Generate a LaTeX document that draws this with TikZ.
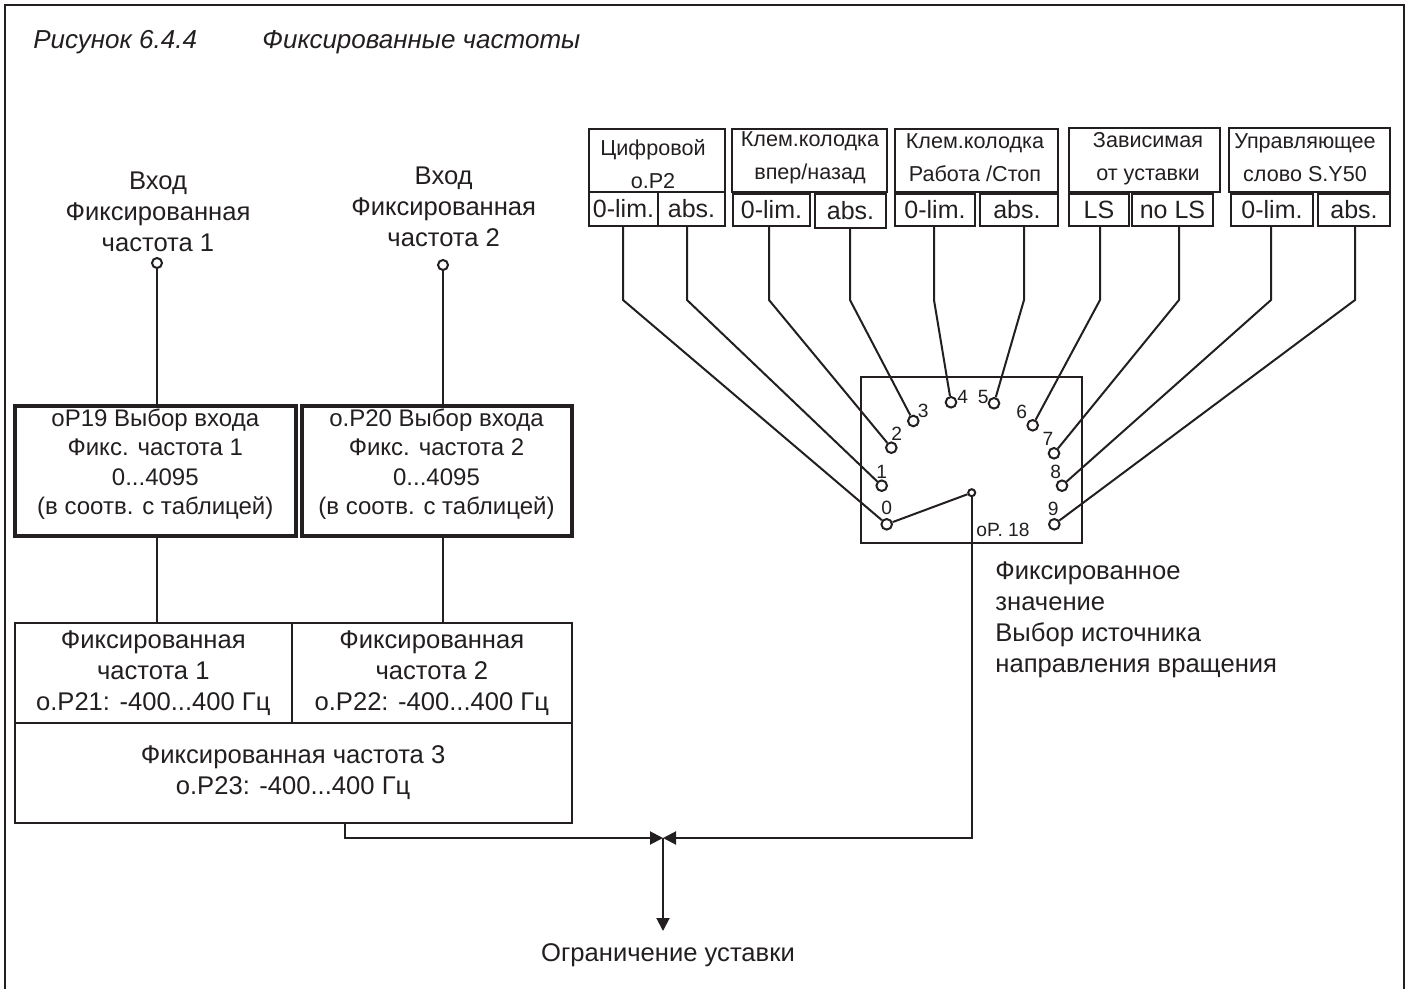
\documentclass[tikz,border=0pt]{standalone}
\usepackage{fontspec}
\setmainfont{Liberation Sans}
\usetikzlibrary{arrows.meta}
\definecolor{ink}{RGB}{35,31,32}
\newcommand\ftLab{\fontsize{12.8}{15.5}\selectfont}
\newcommand\ftBox{\fontsize{12}{14.75}\selectfont}
\newcommand\ftTop{\fontsize{10.8}{16.5}\selectfont}
\newcommand\ftCell{\fontsize{12.5}{14}\selectfont}
\newcommand\ftNum{\fontsize{9.6}{10}\selectfont}
\newcommand\ftTitle{\fontsize{13}{15}\selectfont\itshape}
\begin{document}
\begin{tikzpicture}[x=0.5pt,y=-0.5pt,color=ink,
  bline/.style={line width=1pt},
  outerframe/.style={line width=1.4pt},
  cellbox/.style={draw,line width=1pt,inner sep=0pt,align=center,font=\ftCell},
  topbox/.style={draw,line width=1pt,inner sep=0pt},
  toptxt/.style={inner sep=0pt,align=center,font=\ftTop},
  selbox/.style={draw,line width=2pt,inner sep=0pt},
  seltxt/.style={inner sep=0pt,align=center,font=\ftBox},
  fbox/.style={draw,line width=1pt,inner sep=0pt,align=center,font=\ftLab},
  swcontact/.style={circle,draw,line width=1pt,fill=white,inner sep=0pt,minimum size=5.3pt},
  inpin/.style={circle,draw,line width=1pt,fill=white,inner sep=0pt,minimum size=5pt},
  numlbl/.style={inner sep=0pt,font=\ftNum},
  labtxt/.style={inner sep=0pt,align=center,font=\ftLab},
  arrowhd/.style={-{Triangle[length=6.5pt,width=6.5pt]}},
]
\useasboundingbox (0,0) rectangle (1409,989);
% outer frame
\draw[outerframe] (5,1000) -- (5,5) -- (1404,5) -- (1404,1000);

% title
\node[inner sep=0pt,anchor=west,font=\ftTitle] (tt1) at (33,42) {Рисунок 6.4.4};
\node[inner sep=0pt,anchor=west,font=\ftTitle] (tt2) at (262,42) {Фиксированные частоты};

% ---------- left part ----------
\node[labtxt] (lin1) at (158,212) {Вход\\Фиксированная\\частота 1};
\node[labtxt] (lin2) at (443.7,207) {Вход\\Фиксированная\\частота 2};
\node[inpin] (in1) at (157,263) {};
\node[inpin] (in2) at (443,265) {};

\node[selbox,minimum width=140.7pt,minimum height=65pt] (sel1) at (155.3,471) {};
\node[seltxt] (sel1t) at (155.3,464) {oP19 Выбор входа\\Фикс. частота 1\\0...4095\\(в соотв. с таблицей)};
\node[selbox,minimum width=135pt,minimum height=65pt] (sel2) at (436.5,471) {};
\node[seltxt] (sel2t) at (436.5,464) {o.P20 Выбор входа\\Фикс. частота 2\\0...4095\\(в соотв. с таблицей)};

\node[fbox,minimum width=138.7pt,minimum height=50pt] (c1) at (153.3,672.7) {Фиксированная\\частота 1\\o.P21: -400...400 Гц};
\node[fbox,minimum width=139.8pt,minimum height=50pt] (c2) at (431.8,672.7) {Фиксированная\\частота 2\\o.P22: -400...400 Гц};
\node[fbox,minimum width=278.5pt,minimum height=50pt] (c3) at (293.1,772.7) {Фиксированная частота 3\\o.P23: -400...400 Гц};

\draw[bline] (in1) -- (in1 |- sel1.north);
\draw[bline] (in1 |- sel1.south) -- (in1 |- c1.north);
\draw[bline] (in2) -- (in2 |- sel2.north);
\draw[bline] (in2 |- sel2.south) -- (in2 |- c2.north);

% ---------- top boxes ----------
\node[topbox,minimum width=68pt,minimum height=31.5pt] (u1) at (657,160.5) {};
\node[toptxt] (u1t) at (653,164.5) {Цифровой\\o.P2};
\node[topbox,minimum width=77.5pt,minimum height=31.5pt] (u2) at (809.5,160.5) {};
\node[toptxt] (u2t) at (810,158) {Клем.колодка\\впер/назад};
\node[topbox,minimum width=81.5pt,minimum height=31.5pt] (u3) at (976.5,160.5) {};
\node[toptxt] (u3t) at (975,158) {Клем.колодка\\Работа /Стоп};
\node[topbox,minimum width=75.5pt,minimum height=32pt] (u4) at (1144.5,160) {};
\node[toptxt] (u4t) at (1148,159) {Зависимая\\от уставки};
\node[topbox,minimum width=80.5pt,minimum height=32pt] (u5) at (1309.5,160) {};
\node[toptxt] (u5t) at (1305,158) {Управляющее\\слово S.Y50};

\node[cellbox,minimum width=34.5pt,minimum height=17pt] (lo1a) at (623.5,209) {0-lim.};
\node[cellbox,minimum width=33.5pt,minimum height=17pt] (lo1b) at (691.5,209) {abs.};
\node[cellbox,minimum width=38.5pt,minimum height=16pt] (lo2a) at (771.5,210) {0-lim.};
\node[cellbox,minimum width=35.5pt,minimum height=17pt] (lo2b) at (850.5,211) {abs.};
\node[cellbox,minimum width=40pt,minimum height=16pt] (lo3a) at (935,210) {0-lim.};
\node[cellbox,minimum width=39pt,minimum height=16pt] (lo3b) at (1019,210) {\hfill abs.\,};
\node[cellbox,minimum width=30pt,minimum height=16pt] (lo4a) at (1099,210) {LS};
\node[cellbox,minimum width=40.5pt,minimum height=16pt] (lo4b) at (1172.5,210) {no LS};
\node[cellbox,minimum width=41pt,minimum height=16pt] (lo5a) at (1272,210) {0-lim.};
\node[cellbox,minimum width=36pt,minimum height=16pt] (lo5b) at (1354,210) {abs.};

% ---------- selector switch ----------
\node[draw,line width=1pt,inner sep=0pt,minimum width=110.5pt,minimum height=83pt] (sw) at (971.5,460) {};
\node[numlbl] (swlbl) at (1003,530) {oP. 18};

\node[swcontact] (s0) at (886.7,524.3) {};
\node[swcontact] (s1) at (881.7,485.7) {};
\node[swcontact] (s2) at (891.3,447.7) {};
\node[swcontact] (s3) at (913.3,421) {};
\node[swcontact] (s4) at (951,402.3) {};
\node[swcontact] (s5) at (994,403.3) {};
\node[swcontact] (s6) at (1032.7,425.3) {};
\node[swcontact] (s7) at (1054,453.3) {};
\node[swcontact] (s8) at (1062,485.7) {};
\node[swcontact] (s9) at (1054.3,524.3) {};

\node[numlbl] (n0) at (886.7,508.3) {0};
\node[numlbl] (n1) at (881.7,471.7) {1};
\node[numlbl] (n2) at (896.7,433.3) {2};
\node[numlbl] (n3) at (923.3,410.7) {3};
\node[numlbl] (n4) at (962.7,396.7) {4};
\node[numlbl] (n5) at (983.3,396.7) {5};
\node[numlbl] (n6) at (1021.7,411.7) {6};
\node[numlbl] (n7) at (1048,439) {7};
\node[numlbl] (n8) at (1055.7,472.3) {8};
\node[numlbl] (n9) at (1053.3,509) {9};

\node[circle,draw,line width=1pt,fill=white,inner sep=0pt,minimum size=3.5pt] (piv) at (971.7,492.7) {};
\draw[bline] (s0) -- (piv);

% bend points
\coordinate (k0) at (623,300);
\coordinate (k1) at (687,300);
\coordinate (k2) at (769,300);
\coordinate (k3) at (850,300);
\coordinate (k4) at (934,300);
\coordinate (k5) at (1024,300);
\coordinate (k6) at (1100,300);
\coordinate (k7) at (1179,300);
\coordinate (k8) at (1271,300);
\coordinate (k9) at (1355,300);

\draw[bline] (lo1a.south -| k0) -- (k0) -- (s0);
\draw[bline] (lo1b.south -| k1) -- (k1) -- (s1);
\draw[bline] (lo2a.south -| k2) -- (k2) -- (s2);
\draw[bline] (lo2b.south -| k3) -- (k3) -- (s3);
\draw[bline] (lo3a.south -| k4) -- (k4) -- (s4);
\draw[bline] (lo3b.south -| k5) -- (k5) -- (s5);
\draw[bline] (lo4a.south -| k6) -- (k6) -- (s6);
\draw[bline] (lo4b.south -| k7) -- (k7) -- (s7);
\draw[bline] (lo5a.south -| k8) -- (k8) -- (s8);
\draw[bline] (lo5b.south -| k9) -- (k9) -- (s9);

\node[labtxt,align=left,anchor=north west] (rtxt) at (995,561) {Фиксированное\\значение\\Выбор источника\\направления вращения};

% ---------- output ----------
\coordinate (jn) at (663,838);
\coordinate (bx) at (345,838);
\coordinate (outp) at (663,931);
\draw[bline,arrowhd] (c3.south -| bx) -- (bx) -- (jn);
\draw[bline,arrowhd] (piv) -- (piv |- jn) -- (jn);
\draw[bline,arrowhd] (jn) -- (outp);
\node[labtxt] (lim) at (668,955) {Ограничение уставки};
\end{tikzpicture}
\end{document}
